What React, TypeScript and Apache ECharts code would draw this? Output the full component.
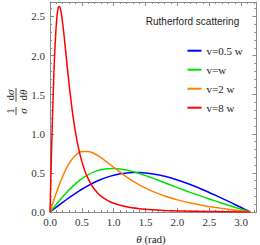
import React, { useEffect, useRef } from "react";
import * as echarts from "echarts";

// θ grid for the three broad curves (rad)
const thetaGrid = [0, 0.1, 0.2, 0.3, 0.4, 0.5, 0.6, 0.7, 0.8, 0.9, 1.0, 1.1, 1.2, 1.3, 1.4, 1.5, 1.6, 1.8, 2.0, 2.2, 2.4, 2.6, 2.8, 2.9, 3.0, 3.1, 3.1416];
const blueValues = [0, 0.062, 0.124, 0.183, 0.239, 0.291, 0.338, 0.38, 0.416, 0.446, 0.47, 0.488, 0.5, 0.505, 0.506, 0.5, 0.49, 0.458, 0.41, 0.352, 0.285, 0.212, 0.136, 0.096, 0.057, 0.017, 0];
const greenValues = [0, 0.099, 0.195, 0.283, 0.36, 0.426, 0.478, 0.516, 0.541, 0.554, 0.556, 0.551, 0.536, 0.516, 0.492, 0.465, 0.436, 0.374, 0.312, 0.251, 0.193, 0.139, 0.086, 0.061, 0.036, 0.01, 0];
const orangeValues = [0, 0.245, 0.459, 0.623, 0.726, 0.774, 0.775, 0.745, 0.695, 0.634, 0.571, 0.511, 0.45, 0.396, 0.348, 0.305, 0.267, 0.204, 0.155, 0.116, 0.084, 0.058, 0.035, 0.025, 0.014, 0.004, 0];

// denser θ grid for the sharp v=8w peak
const redTheta = [0, 0.01, 0.02, 0.03, 0.04, 0.05, 0.06, 0.07, 0.08, 0.09, 0.1, 0.11, 0.12, 0.13, 0.14, 0.15, 0.16, 0.18, 0.2, 0.22, 0.25, 0.3, 0.35, 0.4, 0.45, 0.5, 0.55, 0.6, 0.65, 0.7, 0.75, 0.8, 0.9, 1.0, 1.2, 1.4, 1.6, 1.8, 2.0, 2.2, 2.4, 2.6, 2.8, 3.0, 3.1416];
const redValues = [0, 0.324, 0.642, 0.948, 1.236, 1.502, 1.742, 1.955, 2.137, 2.289, 2.411, 2.505, 2.57, 2.612, 2.629, 2.629, 2.608, 2.526, 2.407, 2.26, 2.021, 1.628, 1.29, 1.018, 0.807, 0.644, 0.518, 0.423, 0.347, 0.288, 0.241, 0.203, 0.148, 0.111, 0.066, 0.042, 0.028, 0.02, 0.014, 0.01, 0.007, 0.005, 0.003, 0.001, 0];

const seriesNames = ["v=0.5 w", "v=w", "v=2 w", "v=8 w"];
const seriesColors = ["#0000ff", "#00e000", "#ff8000", "#ff0000"];

const xMajorTicks = [0, 0.5, 1, 1.5, 2, 2.5, 3];
const xMinorTicks = [0.1, 0.2, 0.3, 0.4, 0.6, 0.7, 0.8, 0.9, 1.1, 1.2, 1.3, 1.4, 1.6, 1.7, 1.8, 1.9, 2.1, 2.2, 2.3, 2.4, 2.6, 2.7, 2.8, 2.9, 3.1, 3.2];
const yMajorTicks = [0, 0.5, 1, 1.5, 2, 2.5];
const yMinorTicks = [0.1, 0.2, 0.3, 0.4, 0.6, 0.7, 0.8, 0.9, 1.1, 1.2, 1.3, 1.4, 1.6, 1.7, 1.8, 1.9, 2.1, 2.2, 2.3, 2.4, 2.6];

const X_MIN = 0;
const X_MAX = 3.24;
const Y_MIN = 0;
const Y_MAX = 2.685;

const FRAME = "#8a8a8a";
const LABEL = "#333333";
const SERIF = '"Liberation Serif", "DejaVu Serif", serif';
const SANS = '"Liberation Sans", Arial, sans-serif';

function zip(xs: number[], ys: number[]) {
  return xs.map((x, i) => [x, ys[i]]);
}

function xAx(position: "bottom" | "top", ticks: number[], len: number, labels: boolean, line: boolean) {
  return {
    type: "value",
    position,
    min: X_MIN,
    max: X_MAX,
    axisLine: { show: line, onZero: false, lineStyle: { color: FRAME, width: 1 } },
    axisTick: { show: true, inside: true, length: len, customValues: ticks, lineStyle: { color: FRAME, width: 1 } },
    axisLabel: {
      show: labels,
      customValues: ticks,
      formatter: (v: number) => v.toFixed(1),
      margin: 4,
      color: LABEL,
      fontFamily: SERIF,
      fontSize: 11,
    },
    splitLine: { show: false },
  };
}

function yAx(position: "left" | "right", ticks: number[], len: number, labels: boolean, line: boolean) {
  return {
    type: "value",
    position,
    min: Y_MIN,
    max: Y_MAX,
    axisLine: { show: line, onZero: false, lineStyle: { color: FRAME, width: 1 } },
    axisTick: { show: true, inside: true, length: len, customValues: ticks, lineStyle: { color: FRAME, width: 1 } },
    axisLabel: {
      show: labels,
      customValues: ticks,
      formatter: (v: number) => v.toFixed(1),
      margin: 5,
      color: LABEL,
      fontFamily: SERIF,
      fontSize: 11,
    },
    splitLine: { show: false },
  };
}

export default function App() {
  const ref = useRef<HTMLDivElement>(null);

  useEffect(() => {
    if (!ref.current) return;
    const chart = echarts.init(ref.current, undefined, { renderer: "svg" });
    const datasets = [
      zip(thetaGrid, blueValues),
      zip(thetaGrid, greenValues),
      zip(thetaGrid, orangeValues),
      zip(redTheta, redValues),
    ];
    const rich = {
      i: { fontStyle: "italic", fontFamily: SERIF, fontSize: 11, color: "#222" },
      r: { fontStyle: "normal", fontFamily: SERIF, fontSize: 11, color: "#222" },
    };
    const txt = (x: number, y: number, text: string) => ({
      type: "text",
      x,
      y,
      style: {
        text,
        font: '11px "Liberation Serif", serif',
        fontFamily: SERIF,
        fontSize: 11,
        fill: "#222",
        align: "center",
        verticalAlign: "middle",
        rich,
      },
    });
    chart.setOption({
      animation: false,
      backgroundColor: "#ffffff",
      grid: { left: 50, right: 3.5, top: 2, bottom: 33, containLabel: false },
      xAxis: [
        xAx("bottom", xMajorTicks, 4, true, true),
        xAx("bottom", xMinorTicks, 2, false, false),
        xAx("top", xMajorTicks, 4, false, true),
        xAx("top", xMinorTicks, 2, false, false),
      ],
      yAxis: [
        yAx("left", yMajorTicks, 4, true, true),
        yAx("left", yMinorTicks, 2, false, false),
        yAx("right", yMajorTicks, 4, false, true),
        yAx("right", yMinorTicks, 2, false, false),
      ],
      legend: {
        orient: "vertical",
        left: 182.5,
        top: 38.7,
        icon: "rect",
        itemWidth: 14,
        itemHeight: 2,
        itemGap: 5,
        textStyle: { fontFamily: SERIF, fontSize: 11, color: "#222", lineHeight: 14, height: 14 },
        data: seriesNames,
      },
      series: seriesNames.map((name, i) => ({
        name,
        type: "line",
        xAxisIndex: 0,
        yAxisIndex: 0,
        data: datasets[i],
        symbol: "none",
        smooth: 0.2,
        lineStyle: { color: seriesColors[i], width: 1.5 },
        itemStyle: { color: seriesColors[i] },
        z: 2 + i,
      })),
      graphic: [
        {
          type: "text",
          x: 192.5,
          y: 21.7,
          style: {
            text: "Rutherford scattering",
            font: '10px "Liberation Sans", Arial, sans-serif',
            fontFamily: SANS,
            fontSize: 10,
            fill: "#222",
            align: "center",
            verticalAlign: "middle",
          },
        },
        txt(151, 239, "{i|θ}{r| (rad)}"),
        {
          type: "group",
          x: 16,
          y: 101,
          rotation: Math.PI / 2,
          children: [
            txt(-10, -6.5, "{r|1}"),
            { type: "line", shape: { x1: -14, y1: 0, x2: -6, y2: 0 }, style: { stroke: "#222", lineWidth: 0.8 } },
            txt(-10, 6.5, "{i|σ}"),
            txt(6, -6.5, "{r|d}{i|σ}"),
            { type: "line", shape: { x1: -1, y1: 0, x2: 13, y2: 0 }, style: { stroke: "#222", lineWidth: 0.8 } },
            txt(6, 6.5, "{r|d}{i|θ}"),
          ],
        },
      ],
    });
    return () => chart.dispose();
  }, []);

  return (
    <div
      ref={ref}
      style={{ position: "fixed", left: 0, top: 0, width: 260, height: 245 }}
    />
  );
}
